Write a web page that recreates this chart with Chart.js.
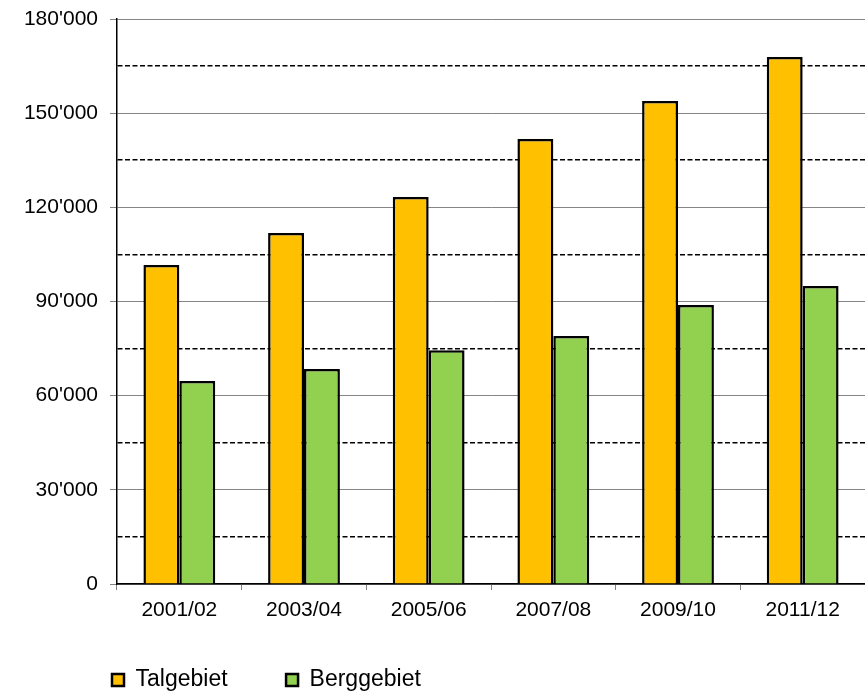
<!DOCTYPE html>
<html>
<head>
<meta charset="utf-8">
<script src="https://cdn.jsdelivr.net/npm/chart.js@4/dist/chart.umd.min.js"></script>
<style>
   html, body { margin: 0; padding: 0; background: #fff; }
   #wrap { width: 865px; height: 698px; }
</style>
</head>
<body>
<div id="wrap"><canvas id="chart"></canvas></div>
<script>
// Werte
const categories = ['2001/02', '2003/04', '2005/06', '2007/08', '2009/10', '2011/12']
const talgebiet = [101600, 111800, 123300, 141800, 153900, 167900]
const berggebiet = [64700, 68500, 74500, 79000, 88900, 94900]
const seriesNames = ['Talgebiet', 'Berggebiet']

const fontFamily = "'Liberation Sans', Arial, sans-serif"

// Hauptlinien alle 30'000, gestrichelte Zwischenlinien
const isMajor = (v) => v % 30000 === 0

const formatTick = (v) => {
   return v.toLocaleString('en-US').replace(/,/g, "'")
}

// Legende unten links platzieren (wie im Excel-Original)
const legendPlace = {
   id: 'legendPlace',
   afterLayout(chart) {
      const lg = chart.legend
      if (!lg) return
      const p = lg.options.labels.padding
      lg.left = 112 - p
      lg.top = 668.5 - p
      lg.right = chart.width
      lg.bottom = chart.height
      lg.width = lg.right - lg.left
      lg.height = lg.bottom - lg.top
   }
}

new Chart(document.getElementById('chart'), {
   type: 'bar',
   data: {
      labels: categories,
      datasets: [
         {
            label: seriesNames[0],
            data: talgebiet,
            backgroundColor: '#FFC000',
            borderColor: '#000000',
            borderWidth: 2.5,
         },
         {
            label: seriesNames[1],
            data: berggebiet,
            backgroundColor: '#92D050',
            borderColor: '#000000',
            borderWidth: 2.5,
         }
      ]
   },
   plugins: [legendPlace],
   options: {
      responsive: true,
      maintainAspectRatio: false,
      animation: false,
      devicePixelRatio: 1,
      categoryPercentage: 0.576,
      barPercentage: 1,
      layout: {
         padding: { top: 19, left: 10, right: 0, bottom: 78.5 }
      },
      plugins: {
         tooltip: { enabled: false },
         legend: {
            position: 'bottom',
            align: 'start',
            maxHeight: 1,
            labels: {
               boxWidth: 12,
               boxHeight: 12,
               padding: 58.5,
               color: '#000',
               font: { family: fontFamily, size: 23 }
            }
         }
      },
      scales: {
         x: {
            afterFit: (scale) => { scale.height = 34.5 },
            grid: {
               offset: true,
               drawOnChartArea: false,
               drawTicks: true,
               tickLength: 6,
               tickColor: '#808080'
            },
            border: { color: '#000', width: 1.5 },
            ticks: {
               padding: 8,
               color: '#000',
               font: { family: fontFamily, size: 21 }
            }
         },
         y: {
            min: 0,
            max: 180000,
            afterFit: (scale) => {
               scale.width = 107
               scale.paddingTop = 0
               scale.paddingBottom = 0
            },
            grid: {
               color: (ctx) => isMajor(ctx.tick.value) ? '#858585' : '#000000',
               lineWidth: (ctx) => isMajor(ctx.tick.value) ? 1 : 1.6,
               tickLength: 7,
               tickColor: (ctx) => isMajor(ctx.tick.value) ? '#858585' : 'rgba(0,0,0,0)'
            },
            border: {
               color: '#000',
               width: 1.5,
               dash: (ctx) => (ctx.tick && !isMajor(ctx.tick.value)) ? [5, 2.5] : []
            },
            ticks: {
               stepSize: 15000,
               padding: 12,
               color: '#000',
               font: { family: fontFamily, size: 21 },
               callback: (value) => isMajor(value) ? formatTick(value) : ''
            }
         }
      }
   }
})
</script>
</body>
</html>
